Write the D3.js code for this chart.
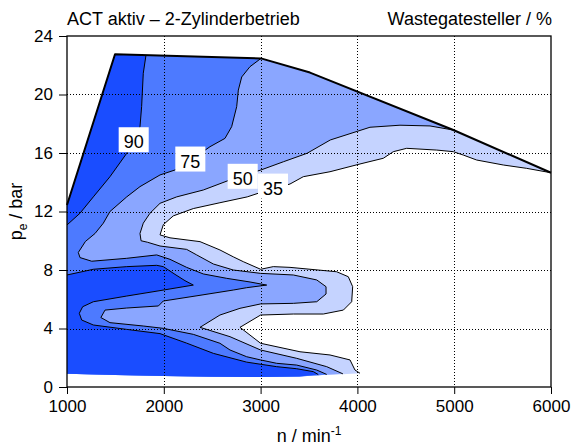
<!DOCTYPE html>
<html>
<head>
<meta charset="utf-8">
<script src="https://cdn.jsdelivr.net/npm/d3@7"></script>
<style>
  body { margin: 0; background: #fff; }
  svg { display: block; }
  text { font-family: Arial, "Liberation Sans", sans-serif; fill: #000; }
</style>
</head>
<body>
<svg id="chart" width="572" height="446"></svg>
<script>
// Wastegate actuator map, ACT active (2-cylinder mode).
// All points are [engine speed n in 1/min, BMEP pe in bar].

const xTicks = [1000, 2000, 3000, 4000, 5000, 6000];
const yTicks = [0, 4, 8, 12, 16, 20, 24];
const xGrid = [2000, 3000, 4000, 5000];
const yGrid = [4, 8, 12, 16, 20];

const levels = [35, 50, 75, 90];
const levelColors = ["#c5d3ff", "#8aa6ff", "#4d7aff", "#1a4dff"];

// upper limit of the measured operating range (full-load line)
const topBoundary = [[1000,12.44],[1496,22.75],[3004,22.47],[3510,21.5],[4991,17.57],[6000,14.65]];
// lower edge of the measured range
const bottomEdge = [[1000,0.9],[1500,0.82],[2000,0.75],[2500,0.7],[3000,0.68],[3400,0.72],[3600,0.8],[3850,0.88],[4027,0.94]];

// iso-lines of the wastegate actuator position
const line35 = [[6000,14.65],[5749,14.95],[5507,15.18],[5232,15.52],[5094,15.86],[4991,16.09],[4819,16.2],[4509,16.32],[4371,16.09],[4268,15.64],[4027,15.25],[3717,14.72],[3441,14.38],[3304,13.88],[3000,13.3],[2862,13.0],[2580,12.6],[2305,12.2],[2098,11.7],[1995,11.1],[1961,10.4],[2064,10.2],[2374,9.94],[2580,9.37],[2718,8.9],[2821,8.57],[3000,8.05],[3131,8.23],[3304,8.18],[3786,7.88],[3906,7.54],[3951,6.86],[3941,5.83],[3855,5.26],[3648,4.99],[3338,4.99],[3000,4.92],[2787,4.08],[3000,2.99],[3407,2.41],[3717,2.19],[3924,1.85],[3975,1.16],[4027,0.94]];

const line50 = [[4991,17.57],[4750,17.85],[4440,17.9],[4130,17.76],[3720,16.89],[3480,15.98],[3235,15.4],[3004,14.84],[2700,14.2],[2408,13.47],[2133,13.0],[1961,12.56],[1857,11.88],[1788,11.2],[1754,10.5],[1765,10.0],[1830,9.9],[1961,9.64],[2236,9.41],[2340,9.03],[2512,8.41],[2718,8.0],[3000,7.77],[3338,7.66],[3580,7.32],[3676,6.86],[3676,6.36],[3580,5.83],[3338,5.72],[3000,5.68],[2787,5.38],[2580,4.92],[2374,4.08],[2684,3.44],[3000,2.53],[3373,1.96],[3683,1.39],[3850,0.9]];

const line75 = [[3004,22.47],[2890,21.9],[2805,21.2],[2770,20.3],[2753,19.17],[2701,17.8],[2632,17.0],[2477,16.43],[2300,15.6],[2116,14.84],[1961,14.5],[1754,13.7],[1617,13.0],[1444,12.0],[1375,11.2],[1290,10.5],[1190,9.95],[1117,9.2],[1134,8.85],[1255,8.6],[1617,8.8],[1927,9.03],[2064,8.73],[2236,8.18],[2408,7.73],[2650,7.43],[2891,7.18],[3063,6.97],[2856,6.79],[2718,6.63],[2374,6.27],[1995,5.88],[1944,5.54],[1617,5.4],[1393,5.26],[1350,4.75],[1444,4.4],[1788,4.17],[1995,4.01],[2305,3.6],[2580,2.99],[2684,2.53],[2856,2.07],[3000,1.85],[3166,1.62],[3373,1.5],[3580,1.16],[3683,0.86]];

const line90a = [[1000,11.08],[1134,11.88],[1272,13.0],[1444,14.38],[1617,15.98],[1700,16.9],[1754,17.8],[1771,19.17],[1788,21.45],[1816,22.69]];

const line90b = [[1000,7.66],[1272,8.05],[1617,8.23],[1927,8.32],[1995,8.23],[2116,7.7],[2219,7.27],[2305,6.97],[1961,6.59],[1617,6.22],[1272,5.83],[1162,5.49],[1127,5.04],[1152,4.58],[1272,4.24],[1617,3.94],[1961,3.65],[2236,3.0],[2512,2.3],[2856,1.7],[3166,1.39],[3373,1.25],[3545,1.05],[3596,0.85]];

// inline level labels: [text, n, pe]
const labelText = ["90", "75", "50", "35"];
const labelAt = [[1689,16.77],[2274,15.45],[2815,14.27],[3128,13.6]];

const W = 572, H = 446;
const margin = { left: 67, right: 21, top: 36, bottom: 59 };
const x = d3.scaleLinear().domain([1000, 6000]).range([margin.left, W - margin.right]);
const y = d3.scaleLinear().domain([0, 24]).range([H - margin.bottom, margin.top]);
const svg = d3.select("#chart");
const path = d3.line().x(d => x(d[0])).y(d => y(d[1]));

// close an iso-line into a filled area using the range limits
function bottomBelow(n) { return bottomEdge.filter(p => p[0] < n).reverse(); }
function regionFromTop(contour) {
  const startN = contour[0][0], endN = contour[contour.length - 1][0];
  return contour.concat(bottomBelow(endN), topBoundary.filter(p => p[0] < startN));
}
const region35 = line35.concat(bottomBelow(4027.5), topBoundary.slice(0, -1));
const region50 = regionFromTop(line50);
const region75 = regionFromTop(line75);
const region90a = line90a.concat(topBoundary.filter(p => p[0] < 1816).reverse());
const region90b = line90b.concat(bottomBelow(line90b[line90b.length - 1][0]));

const fills = svg.append("g");
[[region35, 0], [region50, 1], [region75, 2], [region90a, 3], [region90b, 3]].forEach(([pts, i]) => {
  fills.append("path").attr("d", path(pts) + "Z").attr("fill", levelColors[i]).attr("stroke", "none");
});

// iso-lines
const lines = svg.append("g").attr("fill", "none").attr("stroke", "#000").attr("stroke-width", 1).attr("stroke-linejoin", "round");
[line35, line50, line75, line90a, line90b].forEach(l => lines.append("path").attr("d", path(l)));
// full-load line
svg.append("path").attr("d", path(topBoundary)).attr("fill", "none").attr("stroke", "#000").attr("stroke-width", 2).attr("stroke-linejoin", "round");

// dotted grid
const grid = svg.append("g").attr("stroke", "#000").attr("stroke-width", 1).attr("stroke-dasharray", "1,2");
xGrid.forEach(v => grid.append("line").attr("x1", Math.round(x(v)) + 0.5).attr("x2", Math.round(x(v)) + 0.5).attr("y1", y(24)).attr("y2", y(0)));
yGrid.forEach(v => grid.append("line").attr("y1", Math.round(y(v)) + 0.5).attr("y2", Math.round(y(v)) + 0.5).attr("x1", x(1000)).attr("x2", x(6000)));

// level labels on white boxes
const lab = svg.append("g");
labelText.forEach((t, i) => {
  const cx = x(labelAt[i][0]), cy = y(labelAt[i][1]);
  const tx = lab.append("text").attr("x", cx).attr("y", cy + 6.5).attr("text-anchor", "middle").attr("font-size", 18).text(t);
  const bb = tx.node().getBBox();
  lab.insert("rect", () => tx.node())
    .attr("x", bb.x - 5).attr("y", cy + 6.5 - 21).attr("width", bb.width + 10).attr("height", 25).attr("fill", "#fff");
});

// axes
const xAxis = svg.append("g").attr("transform", `translate(0,${y(0)})`)
  .call(d3.axisBottom(x).tickValues(xTicks).tickFormat(d3.format("d")).tickSize(7).tickPadding(6));
const yAxis = svg.append("g").attr("transform", `translate(${x(1000)},0)`)
  .call(d3.axisLeft(y).tickValues(yTicks).tickSize(8).tickPadding(6));
[xAxis, yAxis].forEach(g => {
  g.select(".domain").remove();
  g.selectAll("text").attr("font-size", 17).attr("font-family", "Arial, 'Liberation Sans', sans-serif").attr("fill", "#000");
  g.selectAll("line").attr("stroke", "#000");
});
svg.append("rect").attr("x", x(1000)).attr("y", y(24)).attr("width", x(6000) - x(1000)).attr("height", y(0) - y(24))
  .attr("fill", "none").attr("stroke", "#000").attr("stroke-width", 1.3);

// titles
svg.append("text").attr("x", x(1000)).attr("y", 25).attr("font-size", 18).text("ACT aktiv – 2-Zylinderbetrieb");
svg.append("text").attr("x", x(6000) + 1).attr("y", 25).attr("font-size", 18).attr("text-anchor", "end").text("Wastegatesteller / %");

// axis titles
const xt = svg.append("text").attr("x", (x(1000) + x(6000)) / 2).attr("y", 442).attr("font-size", 18).attr("text-anchor", "middle");
xt.append("tspan").text("n / min");
xt.append("tspan").attr("dy", -7).attr("font-size", 12).text("-1");

const yt = svg.append("text").attr("transform", `translate(22,${(y(0) + y(24)) / 2}) rotate(-90)`).attr("font-size", 18).attr("text-anchor", "middle");
yt.append("tspan").text("p");
yt.append("tspan").attr("dy", 5).attr("font-size", 12).text("e");
yt.append("tspan").attr("dy", -5).text(" / bar");
</script>
</body>
</html>
